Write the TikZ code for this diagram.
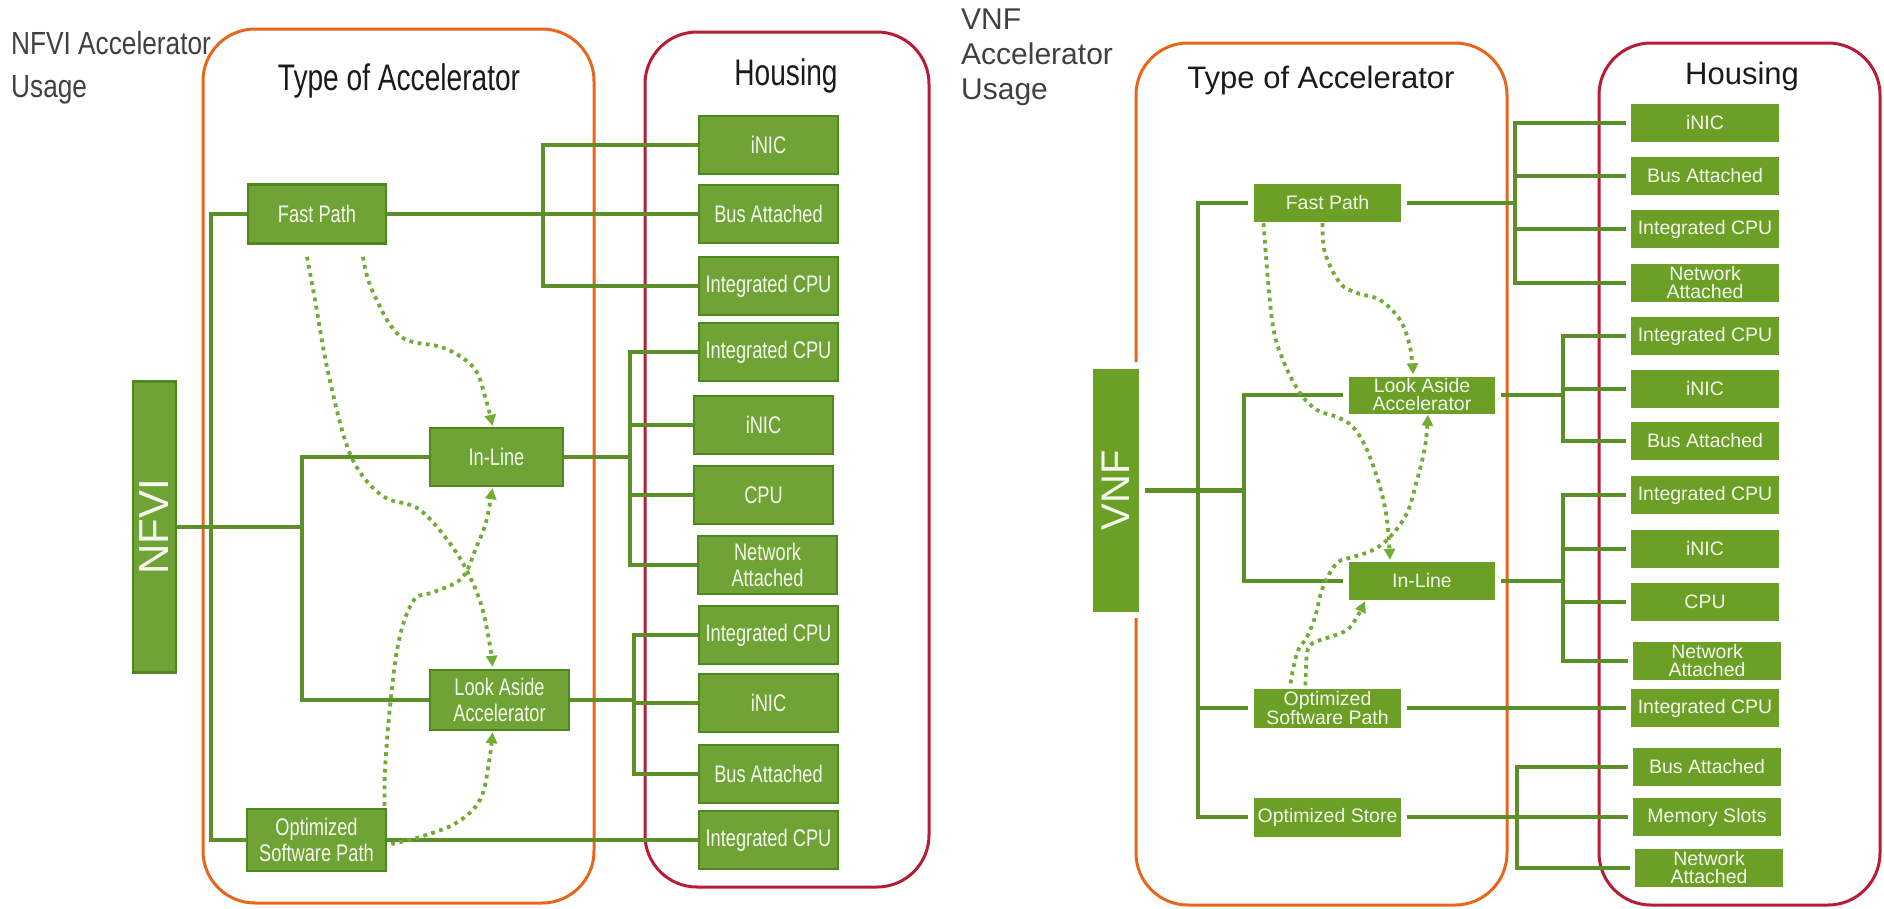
\documentclass[tikz,border=0pt]{standalone}
\usepackage{fontspec}
\setmainfont{Liberation Sans}
\newfontfamily\narrowfont[FakeStretch=0.82]{Liberation Sans}
\newfontfamily\condfont[FakeStretch=0.76]{Liberation Sans}
\usetikzlibrary{arrows.meta,calc}
\pgfdeclarelayer{frames}
\pgfdeclarelayer{lines}
\pgfsetlayers{frames,lines,main}
\definecolor{boxL}{HTML}{6FA336}
\definecolor{boxLd}{HTML}{4E881F}
\definecolor{boxR}{HTML}{6B9F26}
\definecolor{lineG}{HTML}{5C8F27}
\definecolor{dotG}{HTML}{72AB35}
\definecolor{orangeF}{HTML}{E8661C}
\definecolor{redF}{HTML}{B71C36}
\definecolor{txtW}{HTML}{F4F9EC}
\definecolor{titleG}{HTML}{404040}
\definecolor{headK}{HTML}{1A1A1A}
\begin{document}
\begin{tikzpicture}[x=1pt,y=-1pt,
  lbox/.style={draw=boxLd,line width=2.5pt,fill=boxL,inner sep=0pt,text=txtW,align=center,
    font=\condfont\fontsize{24}{26}\selectfont},
  lhouse/.style={lbox,minimum width=139pt,minimum height=58pt},
  rbox/.style={fill=boxR,inner sep=0pt,text=txtW,align=center,
    font=\fontsize{19.5}{18}\selectfont},
  rhouse/.style={rbox,minimum width=148pt,minimum height=38pt},
  rtype/.style={rbox,minimum width=147pt,minimum height=38pt},
  connL/.style={draw=lineG,line width=4pt},
  connR/.style={draw=lineG,line width=4.5pt},
  frameO/.style={draw=orangeF,line width=3pt,rounded corners=52pt},
  frameR/.style={draw=redF,line width=3pt,rounded corners=52pt},
  dotA/.style={draw=dotG,line width=3.8pt,dash pattern=on 3.8pt off 4.5pt,
    -{Triangle[length=11pt,width=11pt]}},
  headL/.style={text=headK,inner sep=0pt,font=\condfont\fontsize{37}{40}\selectfont},
  headR/.style={text=headK,inner sep=0pt,font=\fontsize{31}{36}\selectfont}
]
\useasboundingbox (0,0) rectangle (1884,908);

% ---------------- frames ----------------
\begin{pgfonlayer}{frames}
\draw[frameO] (203,29) rectangle (594,903);
\draw[frameR] (645,32) rectangle (929,887);
\draw[frameO] (1136,43) rectangle (1507,905);
\draw[frameR] (1599,43) rectangle (1880,905);
\fill[white] (1086,362) rectangle (1146,618);
\end{pgfonlayer}

% ---------------- titles ----------------
\node[anchor=north west,align=left,inner sep=0pt,text=titleG,
  font=\narrowfont\fontsize{32}{43}\selectfont] (tL) at (11,31) {NFVI Accelerator\\Usage};
\node[headL,anchor=base] (typeL) at (399,90) {Type of Accelerator};
\node[headL,anchor=base] (housL) at (786,85) {Housing};

\node[anchor=north west,align=left,inner sep=0pt,text=titleG,
  font=\fontsize{30}{35}\selectfont] (tR) at (961,9) {VNF\\Accelerator\\Usage};
\node[headR,anchor=base] (typeR) at (1321,88) {Type of Accelerator};
\node[headR,anchor=base] (housR) at (1742,84) {Housing};

% ---------------- left panel nodes ----------------
\node[lbox,minimum width=291pt,minimum height=43pt,rotate=90,
  font=\fontsize{42}{42}\selectfont] (nfvi) at (154.5,527) {NFVI};
\node[lbox,minimum width=138pt,minimum height=59pt] (fp) at (317,214) {Fast Path};
\node[lbox,minimum width=133pt,minimum height=58pt] (inl) at (496.5,457) {In-Line};
\node[lbox,minimum width=139pt,minimum height=60pt] (la) at (499.5,700) {Look Aside\\Accelerator};
\node[lbox,minimum width=139pt,minimum height=62pt] (osp) at (316.5,840) {Optimized\\Software Path};

\node[lhouse] (h1) at (768.5,145) {iNIC};
\node[lhouse] (h2) at (768.5,214) {Bus Attached};
\node[lhouse] (h3) at (768.5,286) {Integrated CPU};
\node[lhouse] (h4) at (768.5,352) {Integrated CPU};
\node[lhouse] (h5) at (763.5,425) {iNIC};
\node[lhouse] (h6) at (763.5,495) {CPU};
\node[lhouse] (h7) at (767.5,565) {Network\\Attached};
\node[lhouse] (h8) at (768.5,635) {Integrated CPU};
\node[lhouse] (h9) at (768.5,703) {iNIC};
\node[lhouse] (h10) at (768.5,774) {Bus Attached};
\node[lhouse] (h11) at (768.5,840) {Integrated CPU};

% ---------------- right panel nodes ----------------
\node[rbox,minimum width=243pt,minimum height=46pt,rotate=90,
  font=\fontsize{40}{40}\selectfont] (vnf) at (1116,490.5) {VNF};
\node[rtype] (fpr) at (1327.5,203) {Fast Path};
\node[rtype,minimum width=146pt,minimum height=37pt] (lar) at (1422,395) {Look Aside\\Accelerator};
\node[rtype,minimum width=146pt] (inr) at (1422,581) {In-Line};
\node[rtype,minimum height=39pt] (ospr) at (1327.5,708) {Optimized\\Software Path};
\node[rtype,minimum height=39pt] (osr) at (1327.5,817) {Optimized Store};

\node[rhouse] (r1) at (1705,123) {iNIC};
\node[rhouse] (r2) at (1705,176) {Bus Attached};
\node[rhouse] (r3) at (1705,229) {Integrated CPU};
\node[rhouse] (r4) at (1705,283) {Network\\Attached};
\node[rhouse] (r5) at (1705,336) {Integrated CPU};
\node[rhouse] (r6) at (1705,389) {iNIC};
\node[rhouse] (r7) at (1705,441) {Bus Attached};
\node[rhouse] (r8) at (1705,495) {Integrated CPU};
\node[rhouse] (r9) at (1705,549) {iNIC};
\node[rhouse] (r10) at (1705,602) {CPU};
\node[rhouse] (r11) at (1707,661) {Network\\Attached};
\node[rhouse] (r12) at (1705,708) {Integrated CPU};
\node[rhouse] (r13) at (1707,767) {Bus Attached};
\node[rhouse] (r14) at (1707,817) {Memory Slots};
\node[rhouse] (r15) at (1709,868) {Network\\Attached};

% ---------------- junctions ----------------
\coordinate (jA) at (302,527);
\coordinate (jB) at (211,527);
\coordinate (jC) at (543,214);
\coordinate (jD) at (630,457);
\coordinate (jE) at (634,700);

\coordinate (rjA) at (1244,490.5);
\coordinate (rjB) at (1198,490.5);
\coordinate (rjC) at (1515,203);
\coordinate (rjD) at (1563,395);
\coordinate (rjE) at (1563,581);
\coordinate (rjF) at (1517,817);

% ---------------- connectors ----------------
\begin{pgfonlayer}{lines}
\draw[connL] (nfvi.south) -- (jA);
\draw[connL] (inl.west) -| (jA) |- (la.west);
\draw[connL] (fp.west) -| (jB) |- (osp.west);
\draw[connL] (fp.east) -- (h2.west);
\draw[connL] (h1.west) -| (jC) |- (h3.west);
\draw[connL] (inl.east) -- (jD);
\draw[connL] (h4.west) -| (jD) |- (h7.west);
\draw[connL] (jD |- h5.west) -- (h5.west);
\draw[connL] (jD |- h6.west) -- (h6.west);
\draw[connL] (la.east) -- (jE);
\draw[connL] (h8.west) -| (jE) |- (h10.west);
\draw[connL] (jE |- h9.west) -- (h9.west);
\draw[connL] (osp.east) -- (h11.west);

\draw[connR,shorten <=6pt] (vnf.south) -- (rjA);
\draw[connR,shorten <=6pt,shorten >=6pt] (lar.west) -| (rjA) |- (inr.west);
\draw[connR,shorten <=6pt,shorten >=6pt] (fpr.west) -| (rjB) |- (osr.west);
\draw[connR,shorten >=6pt] (rjB |- ospr.west) -- (ospr.west);
\draw[connR,shorten <=6pt] (fpr.east) -- (rjC);
\draw[connR,shorten <=5pt,shorten >=5pt] (r1.west) -| (rjC) |- (r4.west);
\draw[connR,shorten >=5pt] (rjC |- r2.west) -- (r2.west);
\draw[connR,shorten >=5pt] (rjC |- r3.west) -- (r3.west);
\draw[connR,shorten <=6pt] (lar.east) -- (rjD);
\draw[connR,shorten <=5pt,shorten >=5pt] (r5.west) -| (rjD) |- (r7.west);
\draw[connR,shorten >=5pt] (rjD |- r6.west) -- (r6.west);
\draw[connR,shorten <=6pt] (inr.east) -- (rjE);
\draw[connR,shorten <=5pt,shorten >=5pt] (r8.west) -| (rjE) |- (r11.west);
\draw[connR,shorten >=5pt] (rjE |- r9.west) -- (r9.west);
\draw[connR,shorten >=5pt] (rjE |- r10.west) -- (r10.west);
\draw[connR,shorten <=6pt,shorten >=5pt] (ospr.east) -- (r12.west);
\draw[connR,shorten <=6pt] (osr.east) -- (rjF);
\draw[connR,shorten <=5pt,shorten >=5pt] (r13.west) -| (rjF) |- (r15.west);
\draw[connR,shorten >=5pt] (rjF |- r14.west) -- (r14.west);
\end{pgfonlayer}

% ---------------- dotted arrows (left) ----------------
\draw[dotA] plot[smooth,tension=0.6] coordinates {($(fp.south)+(-10,12)$) (315,300) (327,367) (345,440) (362,475) (386,498) (420,510) (456,552) (479,598) (489,640) ($(la.north)+(-7,-2)$)};
\draw[dotA] plot[smooth,tension=0.6] coordinates {($(fp.south)+(46,12)$) (372,290) (400,336) (444,348) (474,368) (486,400) ($(inl.north)+(-4,-1)$)};
\draw[dotA] plot[smooth,tension=0.6] coordinates {($(osp.north)+(68,-2)$) (385,770) (390,707) (399,640) (414,600) (434,592) (462,578) (476,548) (486,522) ($(inl.south)+(-4,1)$)};
\draw[dotA] plot[smooth,tension=0.6] coordinates {($(osp.east)+(4,4)$) (420,837) (456,823) (480,800) (489,762) ($(la.south)+(-7,1)$)};

% ---------------- dotted arrows (right) ----------------
\draw[dotA] plot[smooth,tension=0.6] coordinates {($(fpr.south)+(-64,1)$) (1272,320) (1283,360) (1300,393) (1317,410) (1337,417) (1353,427) (1367,450) (1380,487) (1387,520) ($(inr.north)+(-32,-2)$)};
\draw[dotA] plot[smooth,tension=0.6] coordinates {($(fpr.south)+(-5,1)$) (1325,253) (1340,283) (1357,293) (1380,300) (1400,320) (1410,347) ($(lar.north)+(-9,-2)$)};
\draw[dotA] plot[smooth,tension=0.6] coordinates {($(ospr.north)+(-37,-5)$) (1297,653) (1307,637) (1315,617) (1323,587) (1337,563) (1353,557) (1373,550) (1390,537) (1407,513) (1417,480) (1425,447) ($(lar.south)+(6,1)$)};
\draw[dotA] plot[smooth,tension=0.6] coordinates {($(ospr.north)+(-22,-3)$) (1307,653) (1313,643) (1330,637) (1347,630) (1357,617) ($(inr.south)+(-57,1)$)};
\end{tikzpicture}
\end{document}
